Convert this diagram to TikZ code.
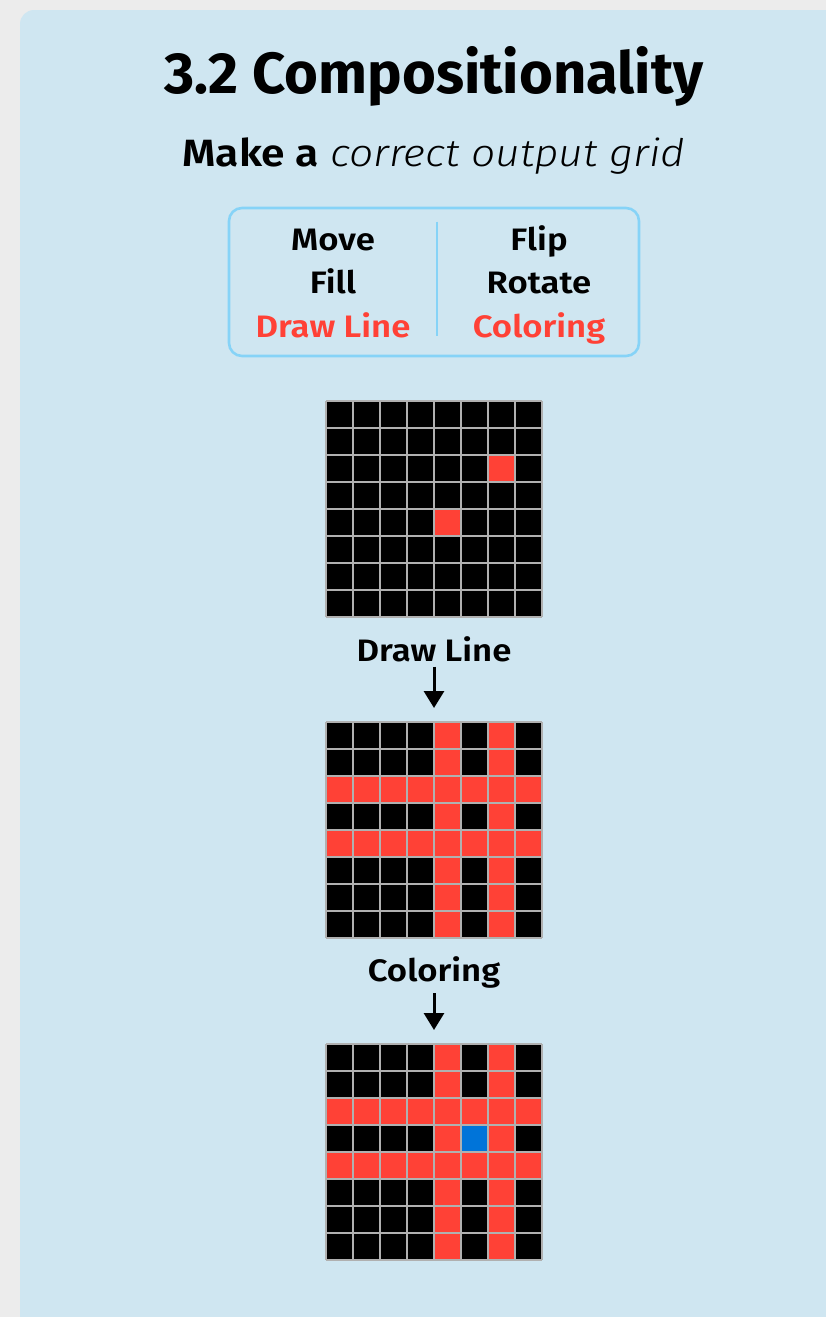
\documentclass[tikz,border=0pt]{standalone}
\usepackage{fontspec}
\setmainfont{Fira Sans}[
  FakeStretch=1.12,
  BoldFont={Fira Sans SemiBold},
  ItalicFont={Fira Sans Light Italic},
  BoldItalicFont={Fira Sans SemiBold Italic}]
\newfontfamily\heavyfont{Fira Sans}[UprightFont={Fira Sans Bold}]
\usetikzlibrary{positioning,arrows.meta,calc}
\definecolor{pagebg}{HTML}{ECECEC}
\definecolor{panelbg}{HTML}{CFE6F1}
\definecolor{menuline}{HTML}{86D3F7}
\definecolor{arcred}{HTML}{FF4136}
\definecolor{arcblue}{HTML}{0074D9}
\definecolor{cellline}{HTML}{B0B0B0}
\tikzset{
  >={Triangle[length=17pt,width=20pt]},
  panel/.style={fill=panelbg,rounded corners=14pt},
  titletxt/.style={font=\fontsize{58}{64}\selectfont\heavyfont,anchor=base,inner sep=0pt},
  subtxt/.style={font=\fontsize{38}{44}\selectfont,anchor=base,inner sep=0pt},
  menubox/.style={draw=menuline,line width=2.6pt,rounded corners=13pt,
    minimum width=410pt,minimum height=148pt,inner sep=0pt},
  menuitem/.style={font=\fontsize{31}{36}\selectfont\bfseries,anchor=base,inner sep=0pt},
  steplbl/.style={font=\fontsize{31}{36}\selectfont\bfseries,anchor=base,inner sep=0pt},
  divider/.style={draw=menuline,line width=2.6pt},
  gridbox/.style={fill=black,minimum size=216pt,inner sep=0pt,outer sep=0pt},
  cellln/.style={draw=cellline,line width=1.3pt},
  flow/.style={->,line width=3pt,shorten <=5pt,shorten >=14pt},
}
\begin{document}
\begin{tikzpicture}[x=1pt,y=-1pt]
  \useasboundingbox (0,0) rectangle (826,1317);
  \clip (0,0) rectangle (826,1317);
  \fill[pagebg] (0,0) rectangle (826,1317);
  \fill[panel] (20,10) rectangle (880,1360);
  % --- heading ---
  \node[titletxt] (title) at (434,93) {3.2 Compositionality};
  \node[subtxt] (subtitle) at (434,166) {\textbf{Make a} \textit{correct output grid}};
  % --- operation menu ---
  \node[menubox] (menu) at (434,282) {};
  \draw[divider] ($(menu.north)+(3,15)$) -- ($(menu.south)+(3,-21)$);
  \node[menuitem] (move) at (333,250) {Move};
  \node[menuitem] (fill) at (333,293) {Fill};
  \node[menuitem,text=arcred] (drawline) at (333,337) {Draw Line};
  \node[menuitem] (flip) at (539,250) {Flip};
  \node[menuitem] (rotate) at (539,293) {Rotate};
  \node[menuitem,text=arcred] (coloring) at (539,337) {Coloring};
  % --- input grid ---
  \node[gridbox] (g1) at (434,509) {};
  \begin{scope}[shift={(g1.north west)}]
    \fill[arcred] (6*27,2*27) rectangle ++(27,27);
    \fill[arcred] (4*27,4*27) rectangle ++(27,27);
    \foreach \k in {0,...,8} {
      \draw[cellln] (\k*27,0) -- ++(0,216);
      \draw[cellln] (0,\k*27) -- ++(216,0);
    }
  \end{scope}
  \node[steplbl] (lbl1) at (434,661) {Draw Line};
  % --- after drawing lines ---
  \node[gridbox] (g2) at (434,830) {};
  \begin{scope}[shift={(g2.north west)}]
    \foreach \c in {4,6} \fill[arcred] (\c*27,0) rectangle ++(27,216);
    \foreach \r in {2,4} \fill[arcred] (0,\r*27) rectangle ++(216,27);
    \foreach \k in {0,...,8} {
      \draw[cellln] (\k*27,0) -- ++(0,216);
      \draw[cellln] (0,\k*27) -- ++(216,0);
    }
  \end{scope}
  \node[steplbl] (lbl2) at (434,981) {Coloring};
  % --- after coloring ---
  \node[gridbox] (g3) at (434,1152) {};
  \begin{scope}[shift={(g3.north west)}]
    \foreach \c in {4,6} \fill[arcred] (\c*27,0) rectangle ++(27,216);
    \foreach \r in {2,4} \fill[arcred] (0,\r*27) rectangle ++(216,27);
    \fill[arcblue] (5*27,3*27) rectangle ++(27,27);
    \foreach \k in {0,...,8} {
      \draw[cellln] (\k*27,0) -- ++(0,216);
      \draw[cellln] (0,\k*27) -- ++(216,0);
    }
  \end{scope}
  \draw[flow] (lbl1) -- (g2);
  \draw[flow] (lbl2) -- (g3);
\end{tikzpicture}
\end{document}
